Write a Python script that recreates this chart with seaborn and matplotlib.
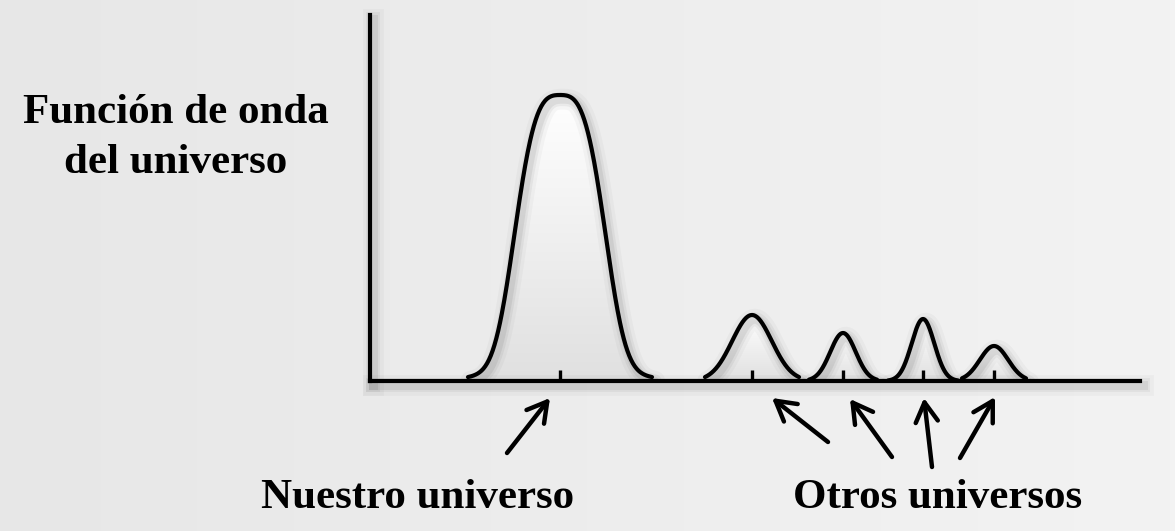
import numpy as np
import pandas as pd
import matplotlib
matplotlib.use("Agg")
import matplotlib.pyplot as plt
import seaborn as sns
from matplotlib import patheffects as pe
from matplotlib.colors import LinearSegmentedColormap

# peaks of the wave function (x in pixels, height in pixels above the axis)
centers = [560, 752, 843, 923, 994]
heights = [286, 66, 48, 62, 35]
widths = [51, 28, 18, 16, 20]
shapes = [3.3, 2.0, 2.0, 2.0, 2.0]
tail_frac = [0.09, 0.0, 0.0, 0.0, 0.0]
tail_width = [66, 1, 1, 1, 1]
spans = [92, 47, 34, 35, 32]

y_label = ["Función de onda", "del universo"]
ours_label = "Nuestro universo"
others_label = "Otros universos"

# arrows: (tail, head) in figure pixels
arrow_tails = [(507, 453), (828, 442), (892, 457), (932, 467), (960, 458)]
arrow_heads = [(550, 398), (772, 398), (850, 399), (924, 398), (995, 397)]

sns.set_theme(style="white")
plt.rcParams["font.family"] = ["Liberation Serif", "DejaVu Serif"]

rows = []
for i, c in enumerate(centers):
    h, w, p, s = heights[i], widths[i], shapes[i], spans[i]
    xs = np.linspace(c - s, c + s, 300)
    d = np.abs(xs - c)
    core = np.exp(-(d / w) ** p)
    tail = np.exp(-(d / tail_width[i]) ** 2)
    ys = h * ((1 - tail_frac[i]) * core + tail_frac[i] * tail)
    for x, y in zip(xs, ys):
        rows.append({"peak": i, "x": x, "y": y})
df = pd.DataFrame(rows)

W, H = 1175, 531
fig = plt.figure(figsize=(W / 100, H / 100), dpi=100)

# background
bg = fig.add_axes([0, 0, 1, 1], zorder=-10)
grad = np.linspace(0, 1, 256)[None, :]
bg_cmap = LinearSegmentedColormap.from_list("bg", ["#e7e7e7", "#f3f3f3"])
bg.imshow(grad, aspect="auto", cmap=bg_cmap, extent=[0, 1, 0, 1])
bg.axis("off")

shadow = [pe.Stroke(offset=(2, -3), linewidth=15, foreground="k", alpha=0.03),
          pe.Stroke(offset=(2, -3), linewidth=10, foreground="k", alpha=0.05),
          pe.Stroke(offset=(2, -3), linewidth=6.5, foreground="k", alpha=0.07),
          pe.Normal()]

x0, x1, ytop, ybase = 370, 1140, 15, 381
ax = fig.add_axes([x0 / W, (H - ybase) / H, (x1 - x0) / W, (ybase - ytop) / H])
ax.set_facecolor("none")
ax.set_xlim(x0, x1)
ax.set_ylim(0, ybase - ytop)

fill_cmap = LinearSegmentedColormap.from_list("fill", ["#e0e0e0", "#ffffff"])
for i, (c, h, s) in enumerate(zip(centers, heights, spans)):
    sub = df[df["peak"] == i]
    poly = ax.fill_between(sub["x"], 0, sub["y"], color="none", lw=0)
    im = ax.imshow(np.linspace(0, 1, 256)[:, None], cmap=fill_cmap, origin="lower",
                   aspect="auto", extent=[c - s, c + s, 0, h], zorder=1)
    im.set_clip_path(poly.get_paths()[0], transform=ax.transData)

sns.lineplot(data=df, x="x", y="y", units="peak", estimator=None, color="black",
             lw=3, ax=ax, legend=False, zorder=3, sort=False)
for line in ax.lines:
    line.set_path_effects(shadow)
    line.set_solid_capstyle("round")
ax.set_xlim(x0, x1)
ax.set_ylim(0, ybase - ytop)
ax.set_xlabel("")
ax.set_ylabel("")

for side in ["top", "right"]:
    ax.spines[side].set_visible(False)
for side in ["left", "bottom"]:
    ax.spines[side].set_linewidth(3)
    ax.spines[side].set_color("black")
    ax.spines[side].set_capstyle("projecting")
    ax.spines[side].set_path_effects(shadow)
    ax.spines[side].set_zorder(4)

ax.set_axisbelow(False)
ax.set_xticks(centers)
ax.set_xticklabels([])
ax.set_yticks([])
ax.tick_params(axis="x", direction="in", length=8, width=2.4, color="black", bottom=True)
ax.xaxis.set_zorder(5)

# overlay in figure pixels for text and arrows
ov = fig.add_axes([0, 0, 1, 1], zorder=10)
ov.set_xlim(0, W)
ov.set_ylim(H, 0)
ov.axis("off")

txt = dict(ha="center", va="baseline", fontsize=31, fontweight="bold", color="black")
ov.text(176, 123, y_label[0], **txt)
ov.text(176, 173, y_label[1], **txt)
ov.text(418, 508, ours_label, **txt)
ov.text(938, 508, others_label, **txt)

for tail, head in zip(arrow_tails, arrow_heads):
    ov.annotate("", xy=head, xytext=tail,
                arrowprops=dict(arrowstyle="->,head_length=0.7,head_width=0.4",
                                mutation_scale=20, lw=3.2, color="black",
                                shrinkA=0, shrinkB=0))

fig.savefig("out.png", dpi=100)
